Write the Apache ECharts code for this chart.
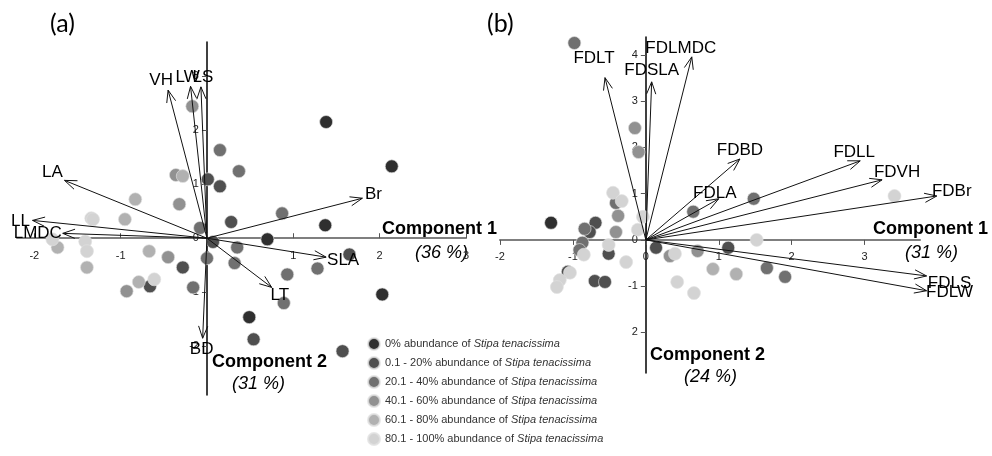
<!DOCTYPE html>
<html>
<head>
<meta charset="utf-8">
<script src="https://cdn.jsdelivr.net/npm/echarts@6/dist/echarts.min.js"></script>
<style>
  html, body { margin: 0; background: #fff; }
  #chart { width: 992px; height: 456px; }
</style>
</head>
<body>
<div id="chart"></div>
<script>
// abundance classes of Stipa tenacissima
const classes = ['0%', '0.1 - 20%', '20.1 - 40%', '40.1 - 60%', '60.1 - 80%', '80.1 - 100%'];
const classColors = ['#2f2f2f', '#4f4f4f', '#707070', '#919191', '#b1b1b1', '#d3d3d3'];

// (a) plot scores [component 1, component 2], one list per class
const sitesA = [
  [[1.38, 2.15], [2.14, 1.33], [1.37, 0.24], [0.70, -0.02], [2.03, -1.04], [0.49, -1.46]],
  [[0.01, 1.09], [0.15, 0.96], [0.28, 0.30], [0.07, -0.07], [1.65, -0.30], [0.54, -1.87], [1.57, -2.09], [-0.66, -0.89], [-0.28, -0.54]],
  [[0.15, 1.63], [0.37, 1.24], [0.87, 0.46], [0.35, -0.17], [0.93, -0.67], [1.28, -0.56], [0.89, -1.20], [-0.08, 0.19], [0.0, -0.37], [0.32, -0.46], [-0.16, -0.91]],
  [[-0.36, 1.17], [-0.32, 0.63], [-0.45, -0.35], [-0.93, -0.98], [-0.17, 2.44]],
  [[-0.28, 1.15], [-0.83, 0.72], [-0.95, 0.35], [-0.67, -0.24], [-0.79, -0.81], [-1.73, -0.17], [-1.39, -0.54]],
  [[-1.34, 0.37], [-1.32, 0.35], [-1.79, -0.02], [-1.41, -0.06], [-1.39, -0.24], [-0.61, -0.76]]
];

// (a) trait vectors
const traitsA = ['VH', 'LW', 'LS', 'LA', 'LL', 'LMDC', 'BD', 'Br', 'SLA', 'LT'];
const vecsA = [[-0.45, 2.74], [-0.19, 2.81], [-0.07, 2.80], [-1.65, 1.07], [-2.02, 0.33], [-1.67, 0.09], [-0.05, -1.85], [1.80, 0.74], [1.38, -0.35], [0.75, -0.91]];

// (b) plot scores
const sitesB = [
  [[-1.30, 0.37]],
  [[-0.69, 0.37], [-0.77, 0.17], [-0.51, -0.30], [0.14, -0.17], [-0.70, -0.89], [-0.56, -0.91], [1.13, -0.17], [-1.07, -0.69]],
  [[-0.98, 4.26], [-0.41, 0.80], [-0.84, 0.24], [-0.87, -0.06], [-0.91, -0.22], [0.65, 0.61], [1.48, 0.89], [1.66, -0.61], [1.91, -0.80]],
  [[-0.15, 2.42], [-0.10, 1.90], [-0.38, 0.52], [-0.41, 0.17], [0.33, -0.35], [0.71, -0.24]],
  [[0.92, -0.63], [1.24, -0.74]],
  [[-0.45, 1.02], [-0.33, 0.84], [-0.85, -0.32], [-0.51, -0.11], [-0.27, -0.48], [-0.04, 0.50], [-0.11, 0.22], [0.40, -0.30], [0.43, -0.91], [0.66, -1.15], [1.52, 0.0], [3.41, 0.95], [-1.04, -0.71], [-1.18, -0.87], [-1.22, -1.02]]
];

// (b) functional diversity vectors
const traitsB = ['FDLT', 'FDSLA', 'FDLMDC', 'FDBD', 'FDLA', 'FDLL', 'FDVH', 'FDBr', 'FDLS', 'FDLW'];
const vecsB = [[-0.56, 3.51], [0.08, 3.42], [0.63, 3.96], [1.29, 1.75], [1.00, 0.89], [2.94, 1.71], [3.24, 1.30], [3.99, 0.95], [3.85, -0.78], [3.85, -1.10]];

// tick labels
const ticksAx = [-2, -1, 0, 1, 2, 3];
const ticksAy = [-2, -1, 0, 1, 2, 3];
const ticksBx = [-2, -1, 0, 1, 2, 3];
const ticksBy = [-2, -1, 0, 1, 2, 3, 4];

// label nudges from the arrow tip (px)
const labelOff = {
  VH: [-7, -10], LW: [-3, -9], LS: [2, -10], LA: [-12, -8], LL: [-12, 1], LMDC: [-25, 0],
  BD: [-1, 11], Br: [11, -4], SLA: [17, 3], LT: [8, 8],
  FDLT: [-11, -19], FDSLA: [0, -12], FDLMDC: [-11, -9], FDBD: [0, -9], FDLA: [-4, -5],
  FDLL: [-6, -9], FDVH: [15, -7], FDBr: [15, -5], FDLS: [23, 7], FDLW: [23, 2]
};

const FONT = 'Liberation Sans, Arial, sans-serif';
const chart = echarts.init(document.getElementById('chart'));

const grids = [
  { left: 17, top: 42, width: 449, height: 353, x: [-2.2, 3.0], y: [-2.9, 3.63] },
  { left: 500, top: 37, width: 420, height: 336, x: [-2, 3.76], y: [-2.88, 4.39] }
];

// axes cross at the origin: shift each axis line inwards to zero
const xAxis = (gi, ticks, inside) => {
  const g = grids[gi];
  return {
    type: 'value', gridIndex: gi, min: g.x[0], max: g.x[1],
    offset: -g.height * (0 - g.y[0]) / (g.y[1] - g.y[0]),
    splitLine: { show: false },
    axisLine: { onZero: false, lineStyle: { color: '#7f7f7f', width: 2 } },
    axisTick: { show: true, inside: inside, length: 5, customValues: ticks, lineStyle: { color: '#555' } },
    axisLabel: { customValues: ticks, fontSize: 11, color: '#222', margin: 12, fontFamily: FONT }
  };
};

const yAxis = (gi, ticks, fmt) => {
  const g = grids[gi];
  return {
    type: 'value', gridIndex: gi, min: g.y[0], max: g.y[1],
    offset: -g.width * (0 - g.x[0]) / (g.x[1] - g.x[0]),
    splitLine: { show: false },
    axisLine: { onZero: false, lineStyle: { color: '#000', width: 1.5 } },
    axisTick: { show: true, length: 5, customValues: ticks, lineStyle: { color: '#555' } },
    axisLabel: { customValues: ticks, fontSize: 11, color: '#222', margin: 8, fontFamily: FONT, formatter: fmt }
  };
};

const arrowSeries = (gi, names, vecs) => ({
  type: 'custom', xAxisIndex: gi, yAxisIndex: gi, clip: false, silent: true, z: 5,
  data: vecs.map((v, i) => ({ name: names[i], value: v })),
  renderItem: (params, api) => {
    const o = api.coord([0, 0]);
    const t = api.coord([api.value(0), api.value(1)]);
    const name = names[params.dataIndex];
    const ang = Math.atan2(t[1] - o[1], t[0] - o[0]);
    const head = [-1, 1].map(s => [t[0] - 13 * Math.cos(ang + s * 0.36), t[1] - 13 * Math.sin(ang + s * 0.36)]);
    const off = labelOff[name] || [0, 0];
    return {
      type: 'group',
      children: [
        { type: 'line', shape: { x1: o[0], y1: o[1], x2: t[0], y2: t[1] }, style: { stroke: '#111', lineWidth: 1 } },
        { type: 'polyline', shape: { points: [head[0], t, head[1]] }, style: { stroke: '#111', lineWidth: 1, fill: null } },
        { type: 'text', x: t[0] + off[0], y: t[1] + off[1],
          style: { text: name, fontSize: 17, fontFamily: FONT, fill: '#000', align: 'center', verticalAlign: 'middle' } }
      ]
    };
  }
});

const scatterSeries = [];
[sitesA, sitesB].forEach((sites, gi) => {
  sites.forEach((pts, c) => {
    scatterSeries.push({
      type: 'scatter', name: classes[c], xAxisIndex: gi, yAxisIndex: gi,
      data: pts, symbolSize: 13, clip: false, z: 2,
      itemStyle: { color: classColors[c], borderColor: 'rgba(225,225,225,0.8)', borderWidth: 0.8, opacity: 1 }
    });
  });
});

const txt = (x, y, text, font) => ({
  type: 'text', x: x, y: y, silent: true,
  style: { text: text, font: font, fill: '#000', align: 'left', verticalAlign: 'middle' }
});

const option = {
  animation: false,
  grid: grids.map(g => ({ left: g.left, top: g.top, width: g.width, height: g.height })),
  xAxis: [xAxis(0, ticksAx, true), xAxis(1, ticksBx, false)],
  yAxis: [
    yAxis(0, ticksAy, v => String(v)),
    yAxis(1, ticksBy, v => (v === -2 ? '2' : String(v)))
  ],
  legend: {
    data: classes, orient: 'vertical', left: 362, top: 332, height: 120,
    icon: 'circle', itemWidth: 12, itemHeight: 12, itemGap: 5, selectedMode: false,
    formatter: name => '{t|' + name + ' abundance of }{i|Stipa tenacissima}',
    textStyle: {
      fontFamily: FONT, fontSize: 11, color: '#333',
      rich: {
        t: { fontFamily: FONT, fontSize: 11, color: '#333', lineHeight: 12 },
        i: { fontFamily: FONT, fontSize: 11, color: '#333', fontStyle: 'italic', lineHeight: 12 }
      }
    }
  },
  graphic: [
    txt(50, 24, '(a)', '25px Lato, sans-serif'),
    txt(487, 24, '(b)', '25px Lato, sans-serif'),
    txt(382, 229, 'Component 1', 'bold 18px ' + FONT),
    txt(415, 253, '(36 %)', 'italic 18px ' + FONT),
    txt(212, 362, 'Component 2', 'bold 18px ' + FONT),
    txt(232, 384, '(31 %)', 'italic 18px ' + FONT),
    txt(873, 229, 'Component 1', 'bold 18px ' + FONT),
    txt(905, 253, '(31 %)', 'italic 18px ' + FONT),
    txt(650, 355, 'Component 2', 'bold 18px ' + FONT),
    txt(684, 377, '(24 %)', 'italic 18px ' + FONT)
  ],
  series: scatterSeries.concat([arrowSeries(0, traitsA, vecsA), arrowSeries(1, traitsB, vecsB)])
};

chart.setOption(option);
window.addEventListener('resize', () => chart.resize());
</script>
</body>
</html>
